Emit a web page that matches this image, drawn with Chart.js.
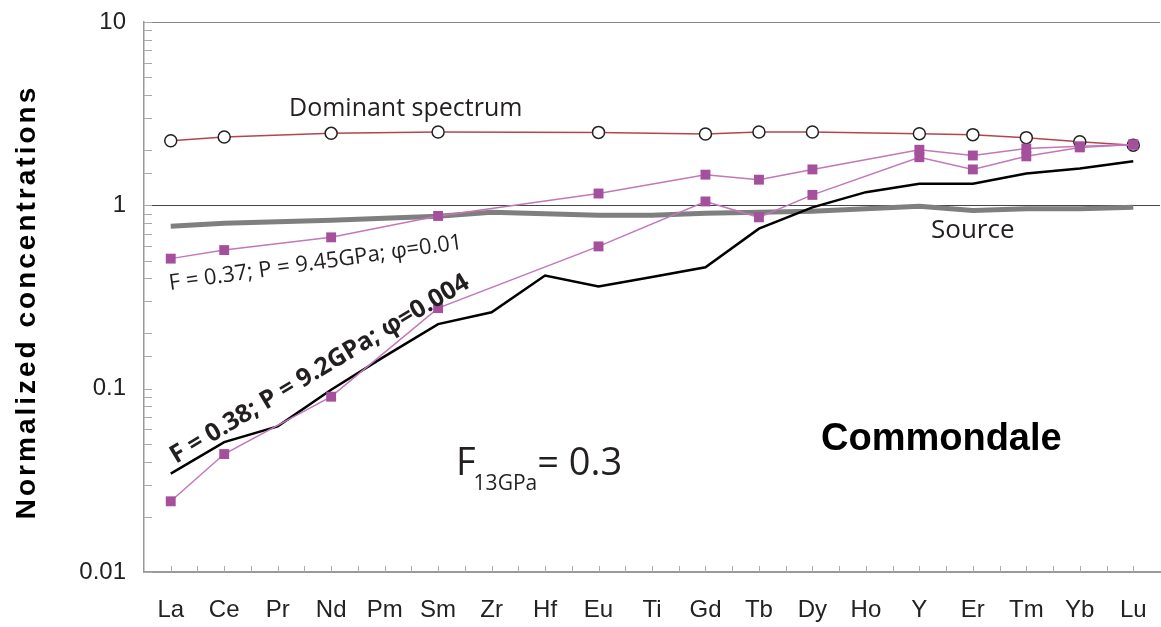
<!DOCTYPE html>
<html>
<head>
<meta charset="utf-8">
<script src="https://cdn.jsdelivr.net/npm/chart.js@4"></script>
<style>
  html, body { margin: 0; padding: 0; background: #fff; }
  #c { display: block; }
</style>
</head>
<body>
<canvas id="c" width="1161" height="627"></canvas>
<script>
// element order on the x axis
var elements = ['La','Ce','Pr','Nd','Pm','Sm','Zr','Hf','Eu','Ti','Gd','Tb','Dy','Ho','Y','Er','Tm','Yb','Lu'];

// normalized concentrations (null = no point)
var dominant   = [2.25, 2.36, null, 2.47, null, 2.51, null, null, 2.50, null, 2.45, 2.51, 2.51, null, 2.46, 2.43, 2.34, 2.22, 2.13];
var model037   = [0.512, 0.570, null, 0.669, null, 0.875, null, null, 1.16, null, 1.47, 1.38, 1.57, null, 2.01, 1.87, 2.04, 2.10, 2.14];
var model038pt = [0.0243, 0.0440, null, 0.0904, null, 0.275, null, null, 0.597, null, 1.05, 0.860, 1.14, null, 1.83, 1.57, 1.85, 2.07, 2.15];
var model038   = [0.0344, 0.0511, 0.0623, 0.0987, 0.150, 0.225, 0.261, 0.414, 0.361, 0.407, 0.459, 0.746, 0.975, 1.18, 1.31, 1.31, 1.49, 1.59, 1.74];
var source     = [0.768, 0.798, 0.813, 0.828, 0.849, 0.871, 0.916, 0.899, 0.882, 0.882, 0.904, 0.916, 0.927, 0.957, 0.987, 0.936, 0.957, 0.957, 0.975];

var yMin = 0.01, yMax = 10;
var refValue = 1;
var yTitle = 'Normalized concentrations';

function isDecade(v){
  var l = Math.log10(v);
  return Math.abs(l - Math.round(l)) < 1e-6;
}

// frame, reference line, inner tick marks and the text notes
var extras = {
  id: 'extras',
  beforeDatasetsDraw: function(chart){
    var ctx = chart.ctx, a = chart.chartArea, y = chart.scales.y;
    var py = Math.round(y.getPixelForValue(refValue)) + 0.5;
    ctx.save();
    ctx.lineWidth = 1;
    ctx.strokeStyle = '#444';
    ctx.beginPath();
    ctx.moveTo(a.left, py);
    ctx.lineTo(a.right, py);
    ctx.stroke();
    // top frame
    ctx.strokeStyle = '#888';
    ctx.beginPath();
    ctx.moveTo(a.left, a.top + 0.5);
    ctx.lineTo(a.right, a.top + 0.5);
    ctx.stroke();
    ctx.restore();
  },
  afterDraw: function(chart){
    var ctx = chart.ctx, a = chart.chartArea, x = chart.scales.x, y = chart.scales.y;
    ctx.save();
    ctx.strokeStyle = '#aaa';
    ctx.lineWidth = 1;
    ctx.beginPath();
    y.ticks.forEach(function(t){
      var py = Math.round(y.getPixelForValue(t.value)) + 0.5;
      ctx.moveTo(a.left, py);
      ctx.lineTo(a.left + 8, py);
    });
    var half = (x.getPixelForValue(1) - x.getPixelForValue(0)) / 2;
    for (var i = 0; i < elements.length; i++) {
      var px = Math.round(x.getPixelForValue(i)) + 0.5;
      ctx.moveTo(px, a.bottom);
      ctx.lineTo(px, a.bottom - 6);
      if (i > 0) {
        var pb = Math.round(x.getPixelForValue(i) - half) + 0.5;
        ctx.moveTo(pb, a.bottom);
        ctx.lineTo(pb, a.bottom - 6);
      }
    }
    ctx.stroke();

    // y title, widely tracked like the original
    ctx.save();
    ctx.translate(27, (a.top + a.bottom) / 2 + 5);
    ctx.rotate(-Math.PI / 2);
    ctx.fillStyle = '#000';
    ctx.font = 'bold 28px "Liberation Sans", Arial, sans-serif';
    ctx.letterSpacing = '3px';
    ctx.textAlign = 'center';
    ctx.textBaseline = 'middle';
    ctx.fillText(yTitle, 0, 0);
    ctx.restore();

    ctx.fillStyle = '#231f20';
    ctx.textBaseline = 'alphabetic';
    ctx.textAlign = 'left';

    ctx.font = '25px "Open Sans"';
    ctx.fillText('Dominant spectrum', 289, 116);

    ctx.font = '26px "Open Sans"';
    ctx.fillText('Source', 931, 238);

    // thin label along the F=0.37 curve
    ctx.save();
    ctx.translate(170, 290);
    ctx.rotate(-8 * Math.PI / 180);
    ctx.font = '22px "Open Sans"';
    ctx.fillText('F = 0.37; P = 9.45GPa; \u03c6=0.01', 0, 0);
    ctx.restore();

    // bold label along the F=0.38 curve
    ctx.save();
    ctx.translate(176, 464);
    ctx.rotate(-31 * Math.PI / 180);
    ctx.font = 'bold 25px "Open Sans"';
    ctx.fillText('F = 0.38; P = 9.2GPa; \u03c6=0.004', 0, 0);
    ctx.restore();

    // F13GPa = 0.3 with subscript
    ctx.font = '38px "Open Sans"';
    ctx.fillText('F', 456, 475);
    var fw = ctx.measureText('F').width;
    ctx.font = '21px "Open Sans"';
    ctx.fillText('13GPa', 456 + fw - 2, 490);
    var sw = ctx.measureText('13GPa').width;
    ctx.font = '38px "Open Sans"';
    ctx.fillText('= 0.3', 456 + fw + sw - 2, 475);

    ctx.fillStyle = '#000';
    ctx.font = 'bold 38px "Liberation Sans", Arial, sans-serif';
    ctx.fillText('Commondale', 821, 450);
    ctx.restore();
  }
};

var ctx = document.getElementById('c');
window.chart = new Chart(ctx, {
  type: 'line',
  data: {
    labels: elements,
    datasets: [{
      label: 'Source',
      data: source,
      borderColor: '#7f7f7f',
      borderWidth: 5,
      pointRadius: 0,
      tension: 0,
      order: 5
    }, {
      label: 'F = 0.38; P = 9.2GPa',
      data: model038,
      borderColor: '#000',
      borderWidth: 2.5,
      pointRadius: 0,
      tension: 0,
      order: 4
    }, {
      label: 'Dominant spectrum',
      data: dominant,
      borderColor: '#b4464b',
      borderWidth: 1.5,
      pointStyle: 'circle',
      pointRadius: 6,
      pointBackgroundColor: '#fff',
      pointBorderColor: '#222',
      pointBorderWidth: 1.5,
      spanGaps: true,
      tension: 0,
      order: 3
    }, {
      label: 'F = 0.37; P = 9.45GPa',
      data: model037,
      borderColor: '#c277bb',
      borderWidth: 1.5,
      pointStyle: 'rect',
      pointRadius: 7,
      pointBackgroundColor: '#a5509c',
      pointBorderColor: '#a5509c',
      pointBorderWidth: 0,
      spanGaps: true,
      tension: 0,
      order: 2
    }, {
      label: 'F = 0.38 points',
      data: model038pt,
      borderColor: '#c277bb',
      borderWidth: 1.5,
      pointStyle: 'rect',
      pointRadius: 7,
      pointBackgroundColor: '#a5509c',
      pointBorderColor: '#a5509c',
      pointBorderWidth: 0,
      spanGaps: true,
      tension: 0,
      order: 1
    }]
  },
  options: {
    responsive: false,
    devicePixelRatio: 1,
    animation: false,
    layout: { autoPadding: false, padding: { left: 0, right: 1, top: 22, bottom: 0 } },
    plugins: { legend: { display: false }, tooltip: { enabled: false } },
    scales: {
      x: {
        type: 'category',
        offset: true,
        grid: { display: false, drawTicks: false },
        border: { display: true, color: '#999', width: 2 },
        ticks: {
          autoSkip: false,
          maxRotation: 0,
          padding: 2,
          color: '#222',
          font: { family: '"Liberation Sans", Arial, sans-serif', size: 24, lineHeight: 3.0 }
        },
        afterFit: function(s){
          s.height = 55;
          s.paddingLeft = 0;
          s.paddingRight = 0;
        }
      },
      y: {
        type: 'logarithmic',
        min: yMin,
        max: yMax,
        grid: { display: false, drawTicks: false },
        border: { display: true, color: '#999', width: 1.5 },
        ticks: {
          autoSkip: false,
          padding: 18,
          color: '#222',
          font: { family: '"Liberation Sans", Arial, sans-serif', size: 24 },
          callback: function(v){
            if (!isDecade(v)) return '';
            return String(Number(v.toPrecision(1)));
          }
        },
        afterFit: function(s){
          s.width = 144;
          s.paddingTop = 0;
          s.paddingBottom = 0;
        }
      }
    }
  },
  plugins: [extras]
});
</script>
</body>
</html>
